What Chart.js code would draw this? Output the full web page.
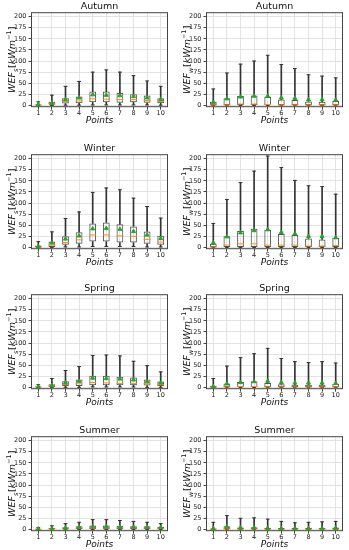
<!DOCTYPE html>
<html>
<head>
<meta charset="utf-8">
<script src="https://cdn.jsdelivr.net/npm/chart.js@4.4.0/dist/chart.umd.min.js"></script>
<style>
    html, body { margin: 0; padding: 0; background: #fff; }
    #wrap { position: relative; width: 349px; height: 550px; overflow: hidden; }
    #wrap canvas { position: absolute; }
</style>
</head>
<body>
<div id="wrap"></div>
<script>
// categories and y ticks
const points = ['1', '2', '3', '4', '5', '6', '7', '8', '9', '10'];
const yTicks = [0, 25, 50, 75, 100, 125, 150, 175, 200];

// Autumn, WEF_s
const autumnS_lo   = [0, 0, 0.5, 0.5, 1, 1, 1, 1, 1, 0.5];
const autumnS_q1   = [0, 1.5, 4, 4.5, 7, 7, 6, 7, 6, 5];
const autumnS_med  = [1, 4, 9, 10, 15, 14, 13, 13, 11, 9];
const autumnS_q3   = [2, 8, 16, 20, 31, 31, 28, 25, 22, 16];
const autumnS_hi   = [8, 23, 43, 54, 75, 80, 75, 67, 55, 43];
const autumnS_mean = [2, 5, 13, 17, 24, 23, 22, 20, 17, 13];

// Autumn, WEF_w
const autumnW_lo   = [0, 0, 0, 0, 0, 0, 0, 0, 0, 0];
const autumnW_q1   = [0, 0, 0, 0, 0, 0, 0, 0, 0, 0];
const autumnW_med  = [1, 1, 3, 3, 2, 1, 1, 1, 1, 1];
const autumnW_q3   = [8, 16, 21, 22, 19, 13, 12, 9, 8, 10];
const autumnW_hi   = [37, 73, 93, 100, 113, 92, 83, 69, 66, 62];
const autumnW_mean = [7, 15, 19, 21, 21, 17, 16, 13, 13, 12];

// Winter, WEF_s
const winterS_lo   = [0, 0, 1, 1, 2, 2, 2, 2, 1, 1];
const winterS_q1   = [0, 1, 6, 8, 13, 13, 11, 11, 8, 6];
const winterS_med  = [1, 5, 11, 17, 28, 28, 26, 25, 18, 12];
const winterS_q3   = [4, 13, 25, 34, 54, 56, 52, 47, 36, 26];
const winterS_hi   = [13, 35, 65, 80, 124, 134, 130, 111, 92, 66];
const winterS_mean = [2, 10, 19, 26, 42, 43, 41, 36, 28, 20];

// Winter, WEF_w
const winterW_lo   = [0, 0, 0, 0, 0, 0, 0, 0, 0, 0];
const winterW_q1   = [0, 0, 0, 0, 0, 0, 0, 0, 0, 0];
const winterW_med  = [1, 5, 8, 8, 5, 5, 5, 3, 3, 4];
const winterW_q3   = [8, 25, 37, 42, 40, 30, 28, 20, 18, 21];
const winterW_hi   = [54, 108, 146, 172, 206, 180, 151, 139, 137, 120];
const winterW_mean = [10, 24, 33, 38, 40, 34, 31, 25, 25, 22];

// Spring, WEF_s
const springS_lo   = [0, 0, 0, 0, 1, 1, 1, 1, 0, 0];
const springS_q1   = [0, 1, 3, 3, 5, 5, 5, 5, 4, 3];
const springS_med  = [1, 3, 6, 8, 11, 10, 9, 9, 8, 6];
const springS_q3   = [2, 7, 14, 18, 26, 26, 24, 22, 18, 13];
const springS_hi   = [6, 20, 38, 47, 72, 73, 71, 59, 49, 35];
const springS_mean = [1, 4, 10, 14, 21, 20, 19, 17, 13, 10];

// Spring, WEF_w
const springW_lo   = [0, 0, 0, 0, 0, 0, 0, 0, 0, 0];
const springW_q1   = [0, 0, 0, 0, 0, 0, 0, 0, 0, 0];
const springW_med  = [0.5, 1, 2, 2, 1, 1, 1, 1, 1, 1];
const springW_q3   = [3, 9, 12, 14, 10, 7, 6, 6, 6, 8];
const springW_hi   = [20, 48, 67, 76, 88, 65, 58, 56, 58, 55];
const springW_mean = [2, 8, 11, 13, 14, 11, 10, 10, 10, 9];

// Summer, WEF_s
const summerS_lo   = [0, 0, 0, 0, 0, 0, 0, 0, 0, 0];
const summerS_q1   = [0, 0, 0, 1, 1, 1, 1, 1, 1, 0];
const summerS_med  = [0.5, 1, 2, 3, 3, 3, 3, 3, 3, 2];
const summerS_q3   = [1, 3, 5, 7, 9, 9, 8, 7, 7, 6];
const summerS_hi   = [4, 8, 13, 16, 22, 22, 20, 18, 16, 13];
const summerS_mean = [1, 2, 3, 5, 6, 6, 5, 5, 5, 4];

// Summer, WEF_w
const summerW_lo   = [0, 0, 0, 0, 0, 0, 0, 0, 0, 0];
const summerW_q1   = [0, 0, 0, 0, 0, 0, 0, 0, 0, 0];
const summerW_med  = [0.5, 1, 1, 1, 0.5, 0.5, 0.5, 0.5, 0.5, 0.5];
const summerW_q3   = [2, 7, 4, 5, 3, 3, 3, 3, 3, 4];
const summerW_hi   = [16, 31, 25, 26, 23, 18, 15, 16, 17, 18];
const summerW_mean = [2, 6, 4, 4, 3, 2, 2, 2, 2, 3];

const panels = [
    { title: 'Autumn', sub: 's', left: 0,   top: 0,   lo: autumnS_lo, q1: autumnS_q1, med: autumnS_med, q3: autumnS_q3, hi: autumnS_hi, mean: autumnS_mean },
    { title: 'Autumn', sub: 'w', left: 175, top: 0,   lo: autumnW_lo, q1: autumnW_q1, med: autumnW_med, q3: autumnW_q3, hi: autumnW_hi, mean: autumnW_mean },
    { title: 'Winter', sub: 's', left: 0,   top: 142, lo: winterS_lo, q1: winterS_q1, med: winterS_med, q3: winterS_q3, hi: winterS_hi, mean: winterS_mean },
    { title: 'Winter', sub: 'w', left: 175, top: 142, lo: winterW_lo, q1: winterW_q1, med: winterW_med, q3: winterW_q3, hi: winterW_hi, mean: winterW_mean },
    { title: 'Spring', sub: 's', left: 0,   top: 282, lo: springS_lo, q1: springS_q1, med: springS_med, q3: springS_q3, hi: springS_hi, mean: springS_mean },
    { title: 'Spring', sub: 'w', left: 175, top: 282, lo: springW_lo, q1: springW_q1, med: springW_med, q3: springW_q3, hi: springW_hi, mean: springW_mean },
    { title: 'Summer', sub: 's', left: 0,   top: 424, lo: summerS_lo, q1: summerS_q1, med: summerS_med, q3: summerS_q3, hi: summerS_hi, mean: summerS_mean },
    { title: 'Summer', sub: 'w', left: 175, top: 424, lo: summerW_lo, q1: summerW_q1, med: summerW_med, q3: summerW_q3, hi: summerW_hi, mean: summerW_mean }
];

const FONT = '"DejaVu Sans", sans-serif';
const WHISKER = '#333';

// frame on all four sides + mathtext-like y label
const framePlugin = {
    id: 'frame',
    afterDraw(chart, args, opts) {
        const { ctx, chartArea: a } = chart;
        ctx.save();
        ctx.strokeStyle = '#444';
        ctx.lineWidth = 1;
        ctx.strokeRect(a.left, a.top, a.right - a.left, a.bottom - a.top);

        const segs = [
            { t: 'WEF', f: `italic 9.5px ${FONT}`, dy: 0, gap: 0 },
            { t: opts.sub, f: `italic 6.5px ${FONT}`, dy: 2.2, gap: 0.8 },
            { t: '[', f: `9.5px ${FONT}`, dy: 0, gap: 0 },
            { t: 'kWm', f: `italic 9.5px ${FONT}`, dy: 0, gap: 0 },
            { t: '\u22121', f: `6.5px ${FONT}`, dy: -4.2, gap: 0.3 },
            { t: ']', f: `9.5px ${FONT}`, dy: 0, gap: 0 }
        ];
        let total = 0;
        segs.forEach(s => { ctx.font = s.f; s.w = ctx.measureText(s.t).width; total += s.w + s.gap; });
        ctx.translate(12, (a.top + a.bottom) / 2);
        ctx.rotate(-Math.PI / 2);
        ctx.fillStyle = '#111';
        ctx.textAlign = 'left';
        ctx.textBaseline = 'alphabetic';
        let x = -total / 2;
        segs.forEach(s => {
            ctx.font = s.f;
            ctx.fillText(s.t, x, 3.4 + s.dy);
            x += s.w + s.gap;
        });
        ctx.restore();
    }
};

function makePanel(p) {
    const canvas = document.createElement('canvas');
    canvas.width = 174;
    canvas.height = 128;
    canvas.style.left = p.left + 'px';
    canvas.style.top = p.top + 'px';
    document.getElementById('wrap').appendChild(canvas);

    const boxData = p.q1.map((v, i) => [v, p.q3[i]]);
    const lowWhisker = p.lo.map((v, i) => [v, p.q1[i]]);
    const highWhisker = p.q3.map((v, i) => [v, p.hi[i]]);

    return new Chart(canvas.getContext('2d'), {
        type: 'bar',
        data: {
            labels: points,
            datasets: [
                { type: 'line', data: p.mean, showLine: false, pointStyle: 'triangle', pointRadius: 2.3, backgroundColor: '#2ca02c', borderColor: '#2ca02c', borderWidth: 1, order: 0 },
                { type: 'line', data: p.med, showLine: false, pointStyle: 'line', pointRadius: 3.4, borderColor: '#ff8c1a', borderWidth: 1, order: 1 },
                { type: 'line', data: p.hi, showLine: false, pointStyle: 'line', pointRadius: 1.9, borderColor: WHISKER, borderWidth: 1, order: 2 },
                { type: 'line', data: p.lo, showLine: false, pointStyle: 'line', pointRadius: 1.9, borderColor: WHISKER, borderWidth: 1, order: 2 },
                { data: boxData, grouped: false, barPercentage: 0.5, categoryPercentage: 1, backgroundColor: 'rgba(0,0,0,0)', borderColor: '#555', borderWidth: 1, borderSkipped: false, order: 3 },
                { data: lowWhisker, grouped: false, barThickness: 1, backgroundColor: WHISKER, borderWidth: 0, order: 4 },
                { data: highWhisker, grouped: false, barThickness: 1, backgroundColor: WHISKER, borderWidth: 0, order: 4 }
            ]
        },
        options: {
            responsive: false,
            animation: false,
            events: [],
            layout: { padding: { left: 0, right: 6.5, top: 0, bottom: 2 } },
            plugins: {
                legend: { display: false },
                tooltip: { enabled: false },
                title: {
                    display: true,
                    text: p.title,
                    fullSize: false,
                    color: '#111',
                    font: { family: FONT, size: 9.5, weight: 'normal' },
                    padding: { top: 0.5, bottom: 0.8 }
                },
                frame: { sub: p.sub }
            },
            scales: {
                x: {
                    offset: true,
                    grid: { offset: false, color: '#dcdcdc', lineWidth: 0.8, tickLength: 3, tickColor: '#444', tickWidth: 1 },
                    border: { display: false },
                    ticks: { color: '#222', font: { family: FONT, size: 6.5 }, padding: 0, maxRotation: 0, autoSkip: false },
                    title: { display: true, text: 'Points', color: '#111', padding: 0, font: { family: FONT, size: 9, style: 'italic' } },
                    afterFit: (scale) => { scale.height = 19.3; }
                },
                y: {
                    min: -3,
                    max: 209,
                    grid: { color: '#dcdcdc', lineWidth: 0.8, tickLength: 3, tickColor: '#444', tickWidth: 1 },
                    border: { display: false },
                    ticks: { color: '#222', font: { family: FONT, size: 6.5 }, padding: 2 },
                    afterBuildTicks: (scale) => { scale.ticks = yTicks.map(v => ({ value: v })); },
                    afterFit: (scale) => { scale.width = 31.5; }
                }
            }
        },
        plugins: [framePlugin]
    });
}

panels.forEach(makePanel);
</script>
</body>
</html>
